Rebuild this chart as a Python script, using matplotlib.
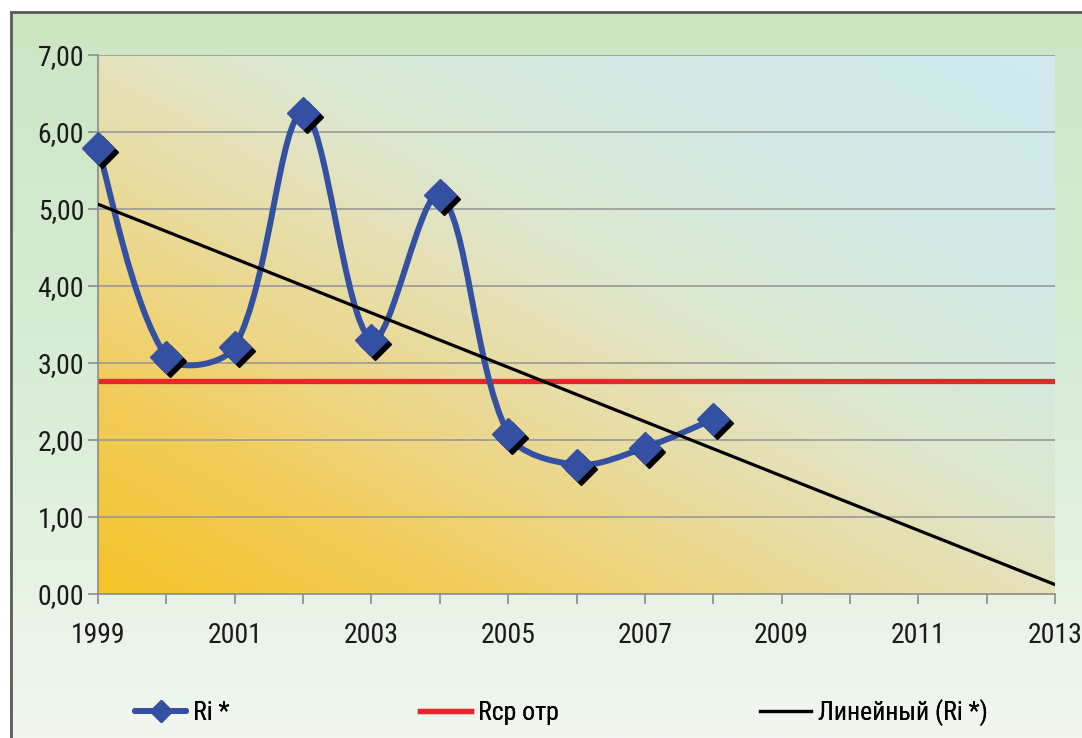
import numpy as np
import matplotlib
matplotlib.use("Agg")
import matplotlib.pyplot as plt
from matplotlib import font_manager as fm
from matplotlib.path import Path
from matplotlib.patches import PathPatch
from matplotlib.lines import Line2D
from matplotlib.colors import LinearSegmentedColormap
from matplotlib.transforms import offset_copy

YEARS = [1999, 2000, 2001, 2002, 2003, 2004, 2005, 2006, 2007, 2008]
RI = [5.79, 3.08, 3.21, 6.25, 3.30, 5.18, 2.08, 1.68, 1.90, 2.27]
RCP_OTR = 2.77
X_RANGE = [1999, 2013]
Y_TICKS = [0, 1, 2, 3, 4, 5, 6, 7]
X_LABELS = [1999, 2001, 2003, 2005, 2007, 2009, 2011, 2013]
LEGEND_LABELS = ["Ri *", "Rcp отр", "Линейный (Ri *)"]

BLUE = "#3450a2"
RED = "#e8262a"

# pick a condensed font if one is available
entries = fm.fontManager.ttflist
names = {f.name for f in entries}
stretch = "normal"
if "Liberation Sans Narrow" in names:
    family = "Liberation Sans Narrow"
elif "Roboto Condensed" in names:
    family = "Roboto Condensed"
elif any(f.name == "DejaVu Sans" and str(f.stretch) == "condensed" for f in entries):
    family = "DejaVu Sans"
    stretch = "condensed"
else:
    family = "Roboto"
plt.rcParams["font.family"] = [family, "DejaVu Sans"]
plt.rcParams["font.stretch"] = stretch

W, H = 1082, 738
fig = plt.figure(figsize=(W / 100, H / 100), dpi=100)
fig.patch.set_facecolor("white")

# outer chart frame with vertical green gradient
bg = fig.add_axes([11 / W, 0, 1 - 11 / W, (H - 12) / H])
bg_cmap = LinearSegmentedColormap.from_list(
    "bg", [(0, "#f1f7ef"), (0.55, "#d6ecd4"), (1, "#cce6c3")])
bg.imshow(np.linspace(0, 1, 256).reshape(-1, 1), cmap=bg_cmap, aspect="auto",
          origin="lower", extent=[0, 1, 0, 1])
bg.set_xlim(0, 1)
bg.set_ylim(0, 1)
bg.set_xticks([])
bg.set_yticks([])
for s in ["right", "bottom"]:
    bg.spines[s].set_visible(False)
for s in ["left", "top"]:
    bg.spines[s].set_color("#5a5a5a")
    bg.spines[s].set_linewidth(2)

ax = fig.add_axes([98 / W, (H - 594) / H, (1055 - 98) / W, (594 - 55) / H])
ax.set_facecolor("none")

# plot area diagonal gradient
u, v = np.meshgrid(np.linspace(0, 1, 300), np.linspace(0, 1, 200))
t = (u + v) / 2
pa_cmap = LinearSegmentedColormap.from_list(
    "pa", [(0, "#f5c428"), (0.19, "#f2cc5a"), (0.3, "#eed580"), (0.5, "#e4e2bc"),
           (0.58, "#dce8d0"), (0.78, "#d2eae6"), (1, "#d0eaee")])
ax.imshow(t, cmap=pa_cmap, origin="lower", extent=[0, 1, 0, 1],
          transform=ax.transAxes, aspect="auto", zorder=0)

ax.set_xlim(*X_RANGE)
ax.set_ylim(Y_TICKS[0], Y_TICKS[-1])

for yv in Y_TICKS[1:]:
    ax.axhline(yv, color="#999999", lw=1.2, zorder=1)

# smoothed line, Excel-like bezier computed in screen space
pts = ax.transData.transform(np.column_stack([YEARS, RI]).astype(float))
n = len(pts)
seg = np.hypot(*np.diff(pts, axis=0).T)
verts = [pts[0]]
codes = [Path.MOVETO]
for i in range(n - 1):
    p0 = pts[max(i - 1, 0)]
    p1 = pts[i]
    p2 = pts[i + 1]
    p3 = pts[min(i + 2, n - 1)]
    d_prev = seg[i - 1] if i > 0 else seg[i]
    d_next = seg[i + 1] if i + 1 < n - 1 else seg[i]
    s1 = 2 * seg[i] / (d_prev + seg[i])
    s2 = 2 * seg[i] / (seg[i] + d_next)
    c1 = p1 + (p2 - p0) / 6 * s1
    c2 = p2 - (p3 - p1) / 6 * s2
    verts += [c1, c2, p2]
    codes += [Path.CURVE4] * 3
verts = ax.transData.inverted().transform(np.array(verts))
ax.add_patch(PathPatch(Path(verts, codes), facecolor="none", edgecolor=BLUE,
                       lw=4.3, zorder=3, capstyle="round", joinstyle="round"))

# red horizontal line
ax.plot(X_RANGE, [RCP_OTR, RCP_OTR], color=RED, lw=3.8, zorder=2)

# linear trend
k, b = np.polyfit(np.array(YEARS) - YEARS[0], RI, 1)
tx = np.array(X_RANGE, dtype=float)
ax.plot(tx, k * (tx - YEARS[0]) + b, color="black", lw=2.3, zorder=4)

# markers with shadow
shadow = offset_copy(ax.transData, fig=fig, x=4, y=-4, units="dots")
ax.plot(YEARS, RI, "D", ms=16, color="black", transform=shadow, zorder=5,
        clip_on=False)
ax.plot(YEARS, RI, "D", ms=16, color=BLUE, mec=BLUE, zorder=6, clip_on=False)

for s in ["top", "right"]:
    ax.spines[s].set_visible(False)
for s in ["left", "bottom"]:
    ax.spines[s].set_color("#8c8c8c")
    ax.spines[s].set_linewidth(1.2)

ax.set_yticks(Y_TICKS)
ax.set_yticklabels([f"{y:.2f}".replace(".", ",") for y in Y_TICKS])
ax.set_xticks(X_LABELS)
ax.set_xticklabels([str(x) for x in X_LABELS])
ax.set_xticks(range(X_RANGE[0], X_RANGE[1] + 1), minor=True)
ax.tick_params(axis="both", which="both", color="#8c8c8c", width=1.2,
               labelsize=20, labelcolor="#1a1a1a")
ax.tick_params(axis="y", length=7, pad=3)
ax.tick_params(axis="x", which="both", length=7, pad=13)

handles = [
    Line2D([], [], color=BLUE, lw=4.3, marker="D", ms=11, solid_capstyle="round"),
    Line2D([], [], color=RED, lw=3.8),
    Line2D([], [], color="black", lw=2.3),
]
for h, lab, x0 in zip(handles, LEGEND_LABELS, [135, 420, 760]):
    fig.add_artist(fig.legend([h], [lab], loc="center left",
                              bbox_to_anchor=(x0 / W, (H - 713) / H),
                              frameon=False, fontsize=18.5, handlelength=2.0,
                              handletextpad=0.25, borderpad=0, borderaxespad=0))

fig.savefig("out.png", dpi=100)
